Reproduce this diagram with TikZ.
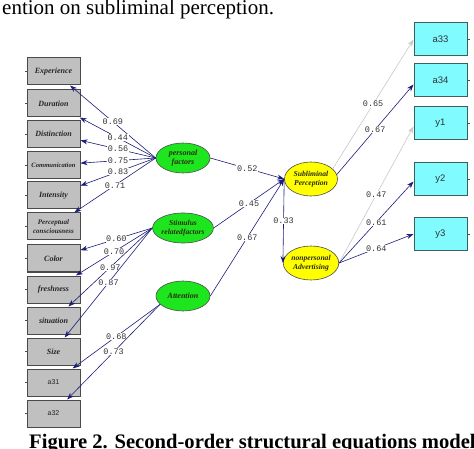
\documentclass[tikz,border=0pt]{standalone}
\usepackage{fontspec}
\setmainfont{Liberation Serif}
\newfontfamily\lsans{Liberation Sans}
\newfontfamily\lmono{Liberation Mono}
\usetikzlibrary{arrows.meta,shapes.geometric}
\definecolor{boxgray}{HTML}{C0C0C0}
\definecolor{boxedge}{HTML}{4A4A4A}
\definecolor{cyanbox}{HTML}{80FBFF}
\definecolor{cyanedge}{HTML}{3F5F5F}
\definecolor{ellgreen}{HTML}{1EE61E}
\definecolor{ellyellow}{HTML}{FFFF00}
\definecolor{navyline}{HTML}{1C1C78}
\definecolor{lightline}{HTML}{C8C8C8}
\definecolor{labgray}{HTML}{333333}
\definecolor{elltext}{HTML}{2A2A10}
\begin{document}
\begin{tikzpicture}[x=1pt,y=-1pt,
  lbox/.style={draw=boxedge, line width=1pt, fill=boxgray, minimum width=53pt, minimum height=27pt, inner sep=0pt, align=center, text=black!85, font=\bfseries\itshape\fontsize{8}{8.5}\selectfont},
  lboxs/.style={lbox, font=\lsans\fontsize{7}{7}\selectfont},
  rbox/.style={draw=cyanedge, line width=1pt, fill=cyanbox, minimum width=53pt, minimum height=33pt, inner sep=0pt, font=\lsans\fontsize{9.5}{10}\selectfont, text=black!80},
  gell/.style={ellipse, draw=black!70, line width=0.6pt, fill=ellgreen, minimum width=54pt, minimum height=30pt, inner sep=0pt, align=center, text=elltext, font=\bfseries\itshape\fontsize{8}{9}\selectfont},
  yell/.style={ellipse, draw=black!70, line width=0.6pt, fill=ellyellow, minimum width=53pt, minimum height=34pt, inner sep=0pt, align=center, text=elltext, font=\bfseries\itshape\fontsize{7.6}{9}\selectfont},
  lab/.style={fill=white, inner sep=0.6pt, font=\lmono\fontsize{8.5}{9}\selectfont, text=labgray},
  arr/.style={draw=navyline, line width=0.6pt, -{Stealth[length=7pt,width=5pt]}},
  garr/.style={draw=lightline, line width=0.6pt, -{Stealth[length=7pt,width=5pt]}},
  tick/.style={draw=black!70, line width=0.6pt}
]
\useasboundingbox (0,0) rectangle (474,449);
\clip (0,0) rectangle (474,449);

% captions
\node[anchor=base west, inner sep=0pt, font=\fontsize{21}{21}\selectfont] (cap1) at (2,15) {ention on subliminal perception.};
\node[anchor=base west, inner sep=0pt, font=\bfseries\fontsize{20.6}{21}\selectfont] (cap2) at (29,448) {Figure 2. Second-order structural equations model};

% left boxes
\node[lbox] (exp) at (53.5,71.5) {Experience};
\node[lbox] (dur) at (53.5,103.5) {Duration};
\node[lbox] (dis) at (53.5,134) {Distinction};
\node[lbox, font=\bfseries\itshape\fontsize{6.6}{7}\selectfont] (com) at (53.5,165) {Communication};
\node[lbox, font=\bfseries\itshape\fontsize{7}{8.5}\selectfont] (per) at (53.5,226.5) {Perceptual\\consciousness};
\node[lbox] (int) at (53.5,195.5) {Intensity};
\node[lbox] (col) at (53.5,258.5) {Color};
\node[lbox] (fre) at (53.5,289.5) {freshness};
\node[lbox] (sit) at (53.5,320.5) {situation};
\node[lbox] (siz) at (53.5,351.5) {Size};
\node[lboxs] (a31) at (53.5,382.5) {a31};
\node[lboxs] (a32) at (53.5,413.5) {a32};

\foreach \n in {exp,dur,dis,com,int,per,col,fre,sit,siz,a31,a32}
  \draw[tick] (\n.west) -- ++(-2,0);

% right boxes
\node[rbox] (a33) at (440.5,39.5) {a33};
\node[rbox] (a34) at (440.5,80.5) {a34};
\node[rbox] (y1) at (440.5,123.5) {y1};
\node[rbox] (y2) at (440.5,179.5) {y2};
\node[rbox] (y3) at (440.5,234) {y3};
\foreach \n in {a33,a34,y1,y2,y3}
  \draw[tick] (\n.east) -- ++(2,0);

% latent variables
\node[gell] (PF) at (183,158) {personal\\factors};
\node[gell, font=\bfseries\itshape\fontsize{7.6}{9}\selectfont] (SF) at (183,228) {Stimulus\\relatedfactors};
\node[gell] (AT) at (183,296) {Attention};
\node[yell] (SP) at (311,179) {Subliminal\\Perception};
\node[yell] (NA) at (311,263) {nonpersonal\\Advertising};

% measurement paths (left)
\draw[arr] (PF.west) -- node[lab]{0.69} (exp);
\draw[arr] (PF.west) -- node[lab]{0.44} (dur);
\draw[arr] (PF.west) -- node[lab]{0.56} (dis);
\draw[arr] (PF.west) -- node[lab]{0.75} (com);
\draw[arr] (PF.west) -- node[lab]{0.83} (int);
\draw[arr] (PF.west) -- node[lab]{0.71} (per);

\draw[arr] (SF.west) -- node[lab]{0.60} (col);
\draw[arr] (SF.west) -- node[lab]{0.70} (fre);
\draw[arr] (SF.west) -- node[lab]{0.97} (sit);
\draw[arr] (SF.west) -- node[lab]{0.87} (siz);

\draw[arr] (AT.200) -- node[lab]{0.68} (a31);
\draw[arr] (AT.200) -- node[lab]{0.73} (a32);

% structural paths
\draw[arr] (PF.east) -- node[lab]{0.52} (SP.west);
\draw[arr] (SF.east) -- node[lab]{0.45} (SP.west);
\draw[arr] (AT.east) -- node[lab]{0.67} (SP.west);
\draw[arr] (SP.west) -- node[lab]{0.33} (NA.west);

% measurement paths (right)
\draw[garr] (SP.25) -- node[lab, pos=0.5]{0.65} (a33.west);
\draw[arr] (SP.10) -- node[lab, pos=0.5]{0.67} ([yshift=-4pt]a34.west);
\draw[garr] (NA.east) -- node[lab]{0.47} ([yshift=-3pt]y1.west);
\draw[arr] (NA.east) -- node[lab]{0.61} ([yshift=-2pt]y2.west);
\draw[arr] (NA.east) -- node[lab]{0.64} (y3.west);
\end{tikzpicture}
\end{document}
